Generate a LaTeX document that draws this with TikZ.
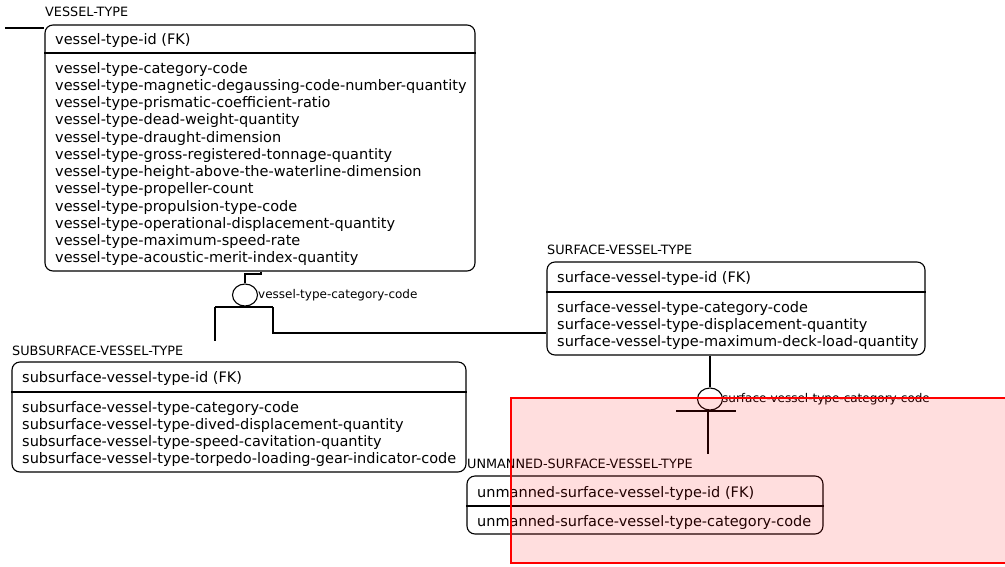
\documentclass[tikz,border=0pt]{standalone}
\usepackage{fontspec}
\usetikzlibrary{shapes.geometric}
\setmainfont{DejaVu Sans}
\begin{document}
\begin{tikzpicture}[x=1pt,y=-1pt,
  entity/.style={draw, rounded corners=8pt, line width=1.1pt, inner sep=0pt},
  divider/.style={line width=1.1pt},
  attr/.style={anchor=west, inner sep=0pt, yshift=-1.5pt, font=\fontsize{14.5}{16}\selectfont, text height=10pt, text depth=3pt},
  etitle/.style={anchor=west, inner sep=0pt, yshift=-1pt, font=\fontsize{12.8}{14}\selectfont, text height=9pt, text depth=2pt},
  rel/.style={line width=1.1pt},
  relname/.style={anchor=west, inner sep=0pt, font=\fontsize{12}{14}\selectfont, text height=9pt, text depth=3pt},
  optional/.style={draw, ellipse, minimum width=25pt, minimum height=22pt, inner sep=0pt, line width=1.1pt},
  highlight/.style={draw=red, line width=1.4pt, fill=red, fill opacity=0.13}
]
\useasboundingbox (0,0) rectangle (1005,566);

% ---------- VESSEL-TYPE ----------
\node[etitle] (vtT) at (45,12) {VESSEL-TYPE};
\node[entity, minimum width=430pt, minimum height=246pt] (vt) at (260,148) {};
\draw[divider] (vt.west |- 0,53) -- (vt.east |- 0,53);
\node[attr] (vt0) at (55,39) {vessel-type-id (FK)};
\foreach \t [count=\i from 0] in {
  vessel-type-category-code,
  vessel-type-magnetic-degaussing-code-number-quantity,
  vessel-type-prismatic-coefficient-ratio,
  vessel-type-dead-weight-quantity,
  vessel-type-draught-dimension,
  vessel-type-gross-registered-tonnage-quantity,
  vessel-type-height-above-the-waterline-dimension,
  vessel-type-propeller-count,
  vessel-type-propulsion-type-code,
  vessel-type-operational-displacement-quantity,
  vessel-type-maximum-speed-rate,
  vessel-type-acoustic-merit-index-quantity}
  \node[attr] (vta\i) at (55,68+17.27*\i) {\t};

% ---------- SUBSURFACE-VESSEL-TYPE ----------
\node[etitle] (subT) at (12,351) {SUBSURFACE-VESSEL-TYPE};
\node[entity, minimum width=454pt, minimum height=110pt] (sub) at (239,417) {};
\draw[divider] (sub.west |- 0,392) -- (sub.east |- 0,392);
\node[attr] (sub0) at (22,377) {subsurface-vessel-type-id (FK)};
\foreach \t [count=\i from 0] in {
  subsurface-vessel-type-category-code,
  subsurface-vessel-type-dived-displacement-quantity,
  subsurface-vessel-type-speed-cavitation-quantity,
  subsurface-vessel-type-torpedo-loading-gear-indicator-code}
  \node[attr] (suba\i) at (22,407+17*\i) {\t};

% ---------- SURFACE-VESSEL-TYPE ----------
\node[etitle] (surT) at (547,250) {SURFACE-VESSEL-TYPE};
\node[entity, minimum width=378pt, minimum height=93pt] (sur) at (736,308.5) {};
\draw[divider] (sur.west |- 0,292) -- (sur.east |- 0,292);
\node[attr] (sur0) at (557,277) {surface-vessel-type-id (FK)};
\foreach \t [count=\i from 0] in {
  surface-vessel-type-category-code,
  surface-vessel-type-displacement-quantity,
  surface-vessel-type-maximum-deck-load-quantity}
  \node[attr] (sura\i) at (557,307+17*\i) {\t};

% ---------- UNMANNED-SURFACE-VESSEL-TYPE ----------
\node[etitle] (unmT) at (467,464) {UNMANNED-SURFACE-VESSEL-TYPE};
\node[entity, minimum width=356pt, minimum height=58pt] (unm) at (645,505) {};
\draw[divider] (unm.west |- 0,506) -- (unm.east |- 0,506);
\node[attr] (unm0) at (477,492) {unmanned-surface-vessel-type-id (FK)};
\node[attr] (unma0) at (477,521) {unmanned-surface-vessel-type-category-code};

% ---------- incoming relationship stub ----------
\coordinate (stub) at (5,28);
\draw[rel] (stub) -- (vt.west |- stub);

% ---------- category: vessel-type -> subsurface / surface ----------
\node[optional] (c1) at (245,295) {};
\node[relname] (c1l) at (258,295) {vessel-type-category-code};
\draw[rel] (vt.south -| 261,0) -- (261,274) -- (245,274) -- (c1.north);
\draw[rel] (215,307) -- (273,307);
\draw[rel] (215,307) -- (215,341);
\draw[rel] (273,307) -- (273,333) -- (sur.west |- 0,333);

% ---------- category: surface -> unmanned ----------
\node[optional] (c2) at (710,399) {};
\node[relname] (c2l) at (722,399) {surface-vessel-type-category-code};
\draw[rel] (sur.south -| 710,0) -- (c2.north);
\draw[rel] (676,411) -- (736,411);
\coordinate (c2end) at (708,454);
\draw[rel] (708,411) -- (c2end);

% ---------- highlighted region ----------
\begin{scope}
  \clip (0,0) rectangle (1005,566);
  \draw[highlight] (511,398) rectangle (1012,563);
\end{scope}
\end{tikzpicture}
\end{document}
